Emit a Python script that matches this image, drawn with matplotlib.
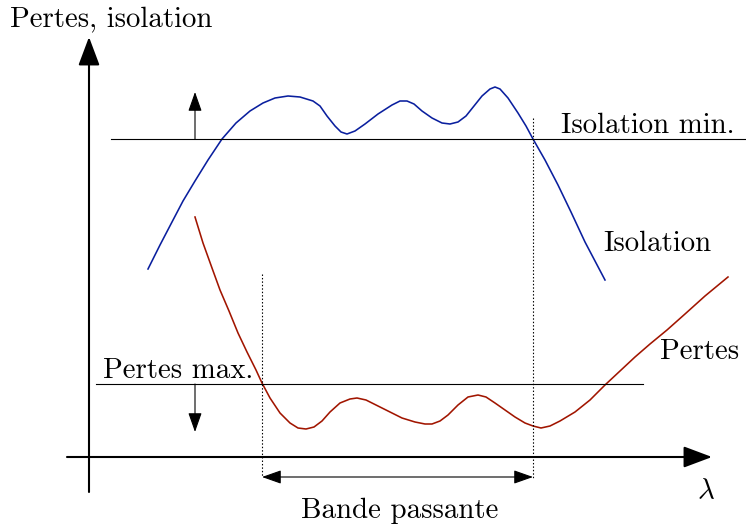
import matplotlib
matplotlib.use("Agg")
import matplotlib.pyplot as plt

# Isolation curve (x: wavelength, y: level)
iso_x = [59, 71, 83, 94, 106, 119, 133, 147, 161, 174, 186, 199, 211, 224, 231, 238,
         246, 252, 258, 266, 276, 289, 303, 311, 318, 325, 333, 343, 353, 361, 369,
         377, 385, 393, 401, 406, 411, 419, 429, 437, 444, 456, 469, 482, 496, 506, 516]
iso_y = [188, 212, 235, 256, 276, 297, 318, 334, 346, 354, 359, 361, 360, 356, 351, 341,
         331, 325, 323, 326, 333, 343, 352, 356, 356, 353, 346, 339, 334, 333, 335,
         341, 351, 361, 368, 370, 368, 359, 344, 331, 318, 297, 272, 245, 215, 196, 177]

# Losses curve
loss_x = [106, 114, 123, 131, 140, 149, 158, 167, 173, 181, 191, 201, 209, 217, 225, 233,
          241, 251, 261, 268, 277, 289, 301, 313, 326, 336, 343, 351, 359, 369, 379, 389,
          397, 406, 416, 426, 436, 444, 452, 461, 471, 486, 501, 516, 531, 546, 561, 578,
          596, 616, 639]
loss_y = [240, 214, 189, 167, 146, 124, 105, 87, 74, 59, 44, 34, 29, 28, 30, 36,
          45, 54, 58, 59, 57, 51, 45, 39, 35, 33, 33, 36, 42, 52, 60, 62,
          60, 54, 47, 40, 34, 31, 29, 31, 36, 45, 57, 72, 86, 100, 113, 127,
          143, 161, 180]

iso_min = 318
loss_max = 73
band = [173, 444]

plt.rcParams['font.family'] = ['cmr10', 'DejaVu Serif']
plt.rcParams['mathtext.fontset'] = 'cm'
plt.rcParams['axes.formatter.use_mathtext'] = True

fig = plt.figure(figsize=(7.46, 5.27), dpi=100)
ax = fig.add_axes([0, 0, 1, 1])
ax.set_xlim(-89, 657)
ax.set_ylim(-70, 457)
ax.axis('off')

fs = 20.8
blue = '#0a1f9e'
red = '#a11500'

# axes arrows
big = dict(arrowstyle='-|>,head_length=0.8,head_width=0.3', lw=1.5, color='black',
           mutation_scale=22, shrinkA=0, shrinkB=0)
ax.annotate('', xy=(623, 0), xytext=(-22, 0), arrowprops=big)
ax.annotate('', xy=(0, 420), xytext=(0, -35), arrowprops=big)

# curves
ax.plot(iso_x, iso_y, color=blue, lw=1.15, solid_joinstyle='round')
ax.plot(loss_x, loss_y, color=red, lw=1.15, solid_joinstyle='round')

# threshold lines
ax.plot([22, 657], [iso_min, iso_min], color='black', lw=0.8)
ax.plot([7, 554], [loss_max, loss_max], color='black', lw=0.8)

small = dict(arrowstyle='-|>,head_length=0.85,head_width=0.3', lw=0.8, color='black',
             mutation_scale=14, shrinkA=0, shrinkB=0)
ax.annotate('', xy=(106, 365), xytext=(106, iso_min), arrowprops=small)
ax.annotate('', xy=(106, 25), xytext=(106, loss_max), arrowprops=small)

# band edges
ax.plot([band[0], band[0]], [183, -20], color='black', lw=0.8, ls=(0, (1.3, 1.8)))
ax.plot([band[1], band[1]], [339, -21], color='black', lw=0.8, ls=(0, (1.3, 1.8)))
both = dict(arrowstyle='<|-|>,head_length=0.85,head_width=0.3', lw=0.8, color='black',
            mutation_scale=14, shrinkA=0, shrinkB=0)
ax.annotate('', xy=(band[1], -20), xytext=(band[0], -20), arrowprops=both)

# labels
ax.text(-79, 430, 'Pertes, isolation', fontsize=fs, va='baseline', ha='left')
ax.text(472, 324, 'Isolation min.', fontsize=fs, va='baseline', ha='left')
ax.text(514, 206, 'Isolation', fontsize=fs, va='baseline', ha='left')
ax.text(571, 98, 'Pertes', fontsize=fs, va='baseline', ha='left')
ax.text(14, 79, 'Pertes max.', fontsize=fs, va='baseline', ha='left')
ax.text(311, -61, 'Bande passante', fontsize=fs, va='baseline', ha='center')
ax.text(608, -42, r'$\lambda$', fontsize=fs, va='baseline', ha='left')

fig.savefig('out.png', dpi=100)
